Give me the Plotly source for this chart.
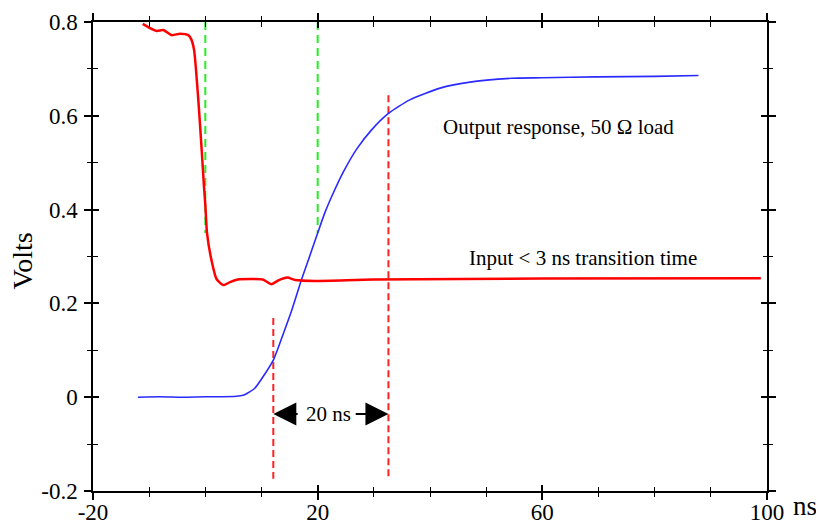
import plotly.graph_objects as go

# ---- data ----
input_t = [-11.15, -9.85, -8.66, -7.48, -5.99, -4.51, -3.03, -2.5, -2.0, -1.25, -0.65, -0.24, 0.0, 0.3,
           1.1, 2.0, 3.2, 4.5, 5.8, 8.0, 10.2, 11.8, 13.0, 14.6, 16.0, 19.5, 30.0, 60.0, 98.9]
input_v = [0.796, 0.787, 0.781, 0.783, 0.772, 0.775, 0.772, 0.763, 0.74, 0.634, 0.527, 0.449, 0.41, 0.35,
           0.292, 0.252, 0.239, 0.246, 0.251, 0.252, 0.251, 0.241, 0.249, 0.255, 0.250, 0.248, 0.251, 0.253, 0.2535]

output_t = [-12.0, -8.0, -4.0, 0.0, 3.0, 5.5, 6.7, 7.4, 8.8, 10.3, 12.1, 13.9, 15.4, 17.1, 18.5, 20.0,
            21.3, 22.8, 24.6, 27.0, 29.6, 32.6, 36.4, 41.8, 44.2, 50.1, 54.5, 60.0, 69.7, 80.0, 87.8]
output_v = [0.000, 0.001, 0.000, 0.001, 0.001, 0.002, 0.004, 0.008, 0.019, 0.044, 0.079, 0.136, 0.186, 0.250,
            0.298, 0.350, 0.394, 0.436, 0.481, 0.530, 0.570, 0.605, 0.634, 0.659, 0.666, 0.676, 0.680,
            0.681, 0.683, 0.684, 0.686]

green_marks_t = [0, 20]
green_marks_v = [0.8, 0.35]
red_marks_t = [12.1, 32.6]
red_marks_top = [0.169, 0.644]
red_marks_bottom = -0.174
arrow_v = -0.036
arrow_tails = [16.7, 26.5]
span_label_t = 21.9

x_ticks = [-20, 20, 60, 100]
x_ticktext = ["-20", "20", "60", "100"]
y_ticks = [-0.2, 0, 0.2, 0.4, 0.6, 0.8]
y_ticktext = ["-0.2", "0", "0.2", "0.4", "0.6", "0.8"]

SERIF = "Liberation Serif"

fig = go.Figure()

# dashed guide lines
for t in green_marks_t:
    fig.add_trace(go.Scatter(x=[t, t], y=green_marks_v, mode="lines",
                             line=dict(color="#22ee22", width=2, dash="8px,5px"),
                             hoverinfo="skip", showlegend=False))
for t, top in zip(red_marks_t, red_marks_top):
    fig.add_trace(go.Scatter(x=[t, t], y=[top, red_marks_bottom], mode="lines",
                             line=dict(color="#ff2222", width=2, dash="7px,4px"),
                             hoverinfo="skip", showlegend=False))

fig.add_trace(go.Scatter(x=output_t, y=output_v, mode="lines",
                         line=dict(color="#2a2aff", width=1.6, shape="spline", smoothing=0.6),
                         showlegend=False))
fig.add_trace(go.Scatter(x=input_t, y=input_v, mode="lines",
                         line=dict(color="#ff0000", width=2.5, shape="spline", smoothing=0.6),
                         showlegend=False))

# invisible trace for overlay axes (inner half of crossing ticks)
fig.add_trace(go.Scatter(x=[input_t[0]], y=[input_v[0]], mode="markers", marker=dict(opacity=0),
                         xaxis="x2", yaxis="y2", hoverinfo="skip", showlegend=False))

tickfont = dict(family=SERIF, size=23, color="black")

common_x = dict(range=[-20, 100], tickmode="array", tickvals=x_ticks, showgrid=False, zeroline=False,
                automargin=False)
common_y = dict(range=[-0.2, 0.8], tickmode="array", tickvals=y_ticks, showgrid=False, zeroline=False,
                automargin=False)

fig.update_layout(
    template="none",
    width=816, height=516,
    margin=dict(l=85, r=57, t=14, b=33, pad=0),
    plot_bgcolor="white", paper_bgcolor="white",
    font=dict(family=SERIF, color="black"),
    xaxis=dict(**common_x, ticktext=x_ticktext, ticks="outside", ticklen=7, tickwidth=1.5,
               tickcolor="black", showline=True, linewidth=1.5, linecolor="black", mirror="ticks",
               tickfont=tickfont, ticklabelstandoff=-7,
               minor=dict(tickmode="linear", tick0=-20, dtick=10, ticks="outside", ticklen=4.5,
                          tickwidth=1.3, tickcolor="black")),
    yaxis=dict(**common_y, ticktext=y_ticktext, ticks="outside", ticklen=7, tickwidth=1.5,
               tickcolor="black", showline=True, linewidth=1.5, linecolor="black", mirror="ticks",
               tickfont=tickfont, ticklabelstandoff=2,
               minor=dict(tickmode="linear", tick0=-0.2, dtick=0.1, ticks="outside", ticklen=4.5,
                          tickwidth=1.3, tickcolor="black")),
    xaxis2=dict(**common_x, overlaying="x", anchor="y2", side="bottom", ticks="inside", ticklen=6,
                tickwidth=1.5, tickcolor="black", showticklabels=False, showline=False, mirror="ticks",
                minor=dict(tickmode="linear", tick0=-20, dtick=10, ticks="inside", ticklen=4.5,
                           tickwidth=1.3, tickcolor="black")),
    yaxis2=dict(**common_y, overlaying="y", anchor="x2", side="left", ticks="inside", ticklen=6,
                tickwidth=1.5, tickcolor="black", showticklabels=False, showline=False, mirror="ticks",
                minor=dict(tickmode="linear", tick0=-0.2, dtick=0.1, ticks="inside", ticklen=4.5,
                           tickwidth=1.3, tickcolor="black")),
)

annfont = dict(family=SERIF, size=21, color="black")
fig.add_annotation(x=42.0, y=0.577, xref="x", yref="y", text="Output response, 50 Ω load",
                   showarrow=False, xanchor="left", yanchor="middle", font=annfont)
fig.add_annotation(x=46.6, y=0.297, xref="x", yref="y", text="Input &lt; 3 ns transition time",
                   showarrow=False, xanchor="left", yanchor="middle", font=annfont)
fig.add_annotation(x=span_label_t, y=arrow_v, xref="x", yref="y", text="20 ns",
                   showarrow=False, xanchor="center", yanchor="middle", font=annfont)
for tip, tail in zip(red_marks_t, arrow_tails):
    fig.add_annotation(x=tip, y=arrow_v, ax=tail, ay=arrow_v, xref="x", yref="y", axref="x", ayref="y",
                       text="", showarrow=True, arrowhead=2, arrowsize=2.3, arrowwidth=2,
                       arrowcolor="black", standoff=0)

fig.add_annotation(x=-0.105, y=0.49, xref="paper", yref="paper", text="Volts", textangle=-90,
                   showarrow=False, xanchor="center", yanchor="middle",
                   font=dict(family=SERIF, size=28, color="black"))
fig.add_annotation(x=1.056, y=-0.032, xref="paper", yref="paper", text="ns",
                   showarrow=False, xanchor="center", yanchor="middle",
                   font=dict(family=SERIF, size=27, color="black"))

fig.write_html("out.html")
